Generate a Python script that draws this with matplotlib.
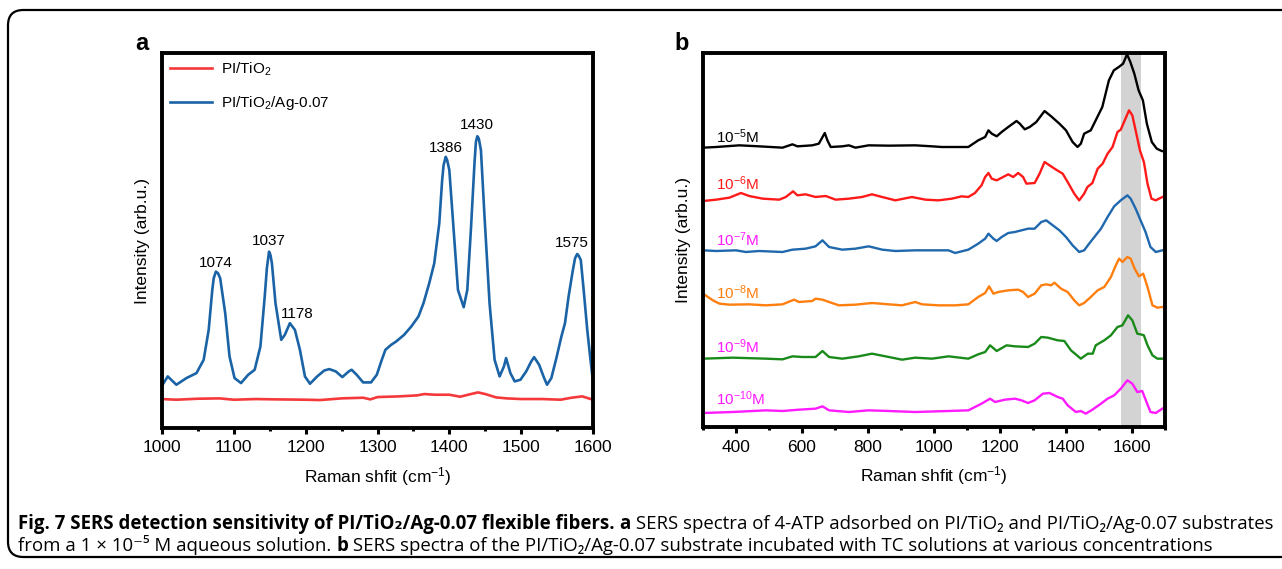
import matplotlib
matplotlib.use("Agg")
import matplotlib.pyplot as plt
from matplotlib.patches import FancyBboxPatch
from matplotlib.ticker import MultipleLocator

plt.rcParams['font.family'] = ['Liberation Sans', 'DejaVu Sans']
plt.rcParams['mathtext.fontset'] = 'custom'
plt.rcParams['mathtext.rm'] = 'Liberation Sans'
plt.rcParams['mathtext.it'] = 'Liberation Sans:italic'
plt.rcParams['mathtext.bf'] = 'Liberation Sans:bold'

# ---- panel a : 4-ATP spectra ----
a_blue_x = [1000, 1008, 1020, 1034, 1048, 1058, 1065, 1070, 1072, 1075, 1078, 1081, 1088, 1094, 1101,
            1110, 1120, 1129, 1137, 1143, 1146, 1149, 1151, 1153, 1158, 1166, 1171, 1178, 1185, 1192,
            1199, 1206, 1216, 1226, 1233, 1242, 1251, 1260, 1264, 1271, 1280, 1291, 1299, 1306, 1311,
            1319, 1326, 1337, 1347, 1357, 1364, 1372, 1379, 1386, 1390, 1392, 1395, 1397, 1400, 1406,
            1412, 1420, 1425, 1430, 1435, 1437, 1439, 1441, 1444, 1449, 1456, 1463, 1470, 1476, 1479,
            1485, 1491, 1499, 1507, 1514, 1518, 1525, 1532, 1536, 1542, 1549, 1556, 1561, 1566, 1572,
            1575, 1578, 1580, 1583, 1587, 1592, 1597, 1600]
a_blue_y = [127, 155, 130, 150, 165, 205, 295, 415, 450, 470, 465, 450, 345, 215, 150,
            135, 160, 175, 245, 395, 480, 530, 520, 495, 375, 265, 280, 315, 295, 235,
            155, 133, 155, 173, 177, 170, 153, 170, 175, 160, 137, 137, 160, 205, 235,
            250, 260, 280, 305, 335, 375, 435, 495, 615, 745, 790, 815, 805, 775, 595,
            415, 363, 415, 595, 795, 860, 877, 870, 835, 635, 375, 205, 155, 185, 210,
            165, 140, 145, 170, 200, 213, 190, 150, 130, 150, 210, 275, 315, 395, 475,
            510, 523, 518, 505, 415, 295, 195, 140]
a_red_x = [1000, 1020, 1050, 1080, 1100, 1130, 1160, 1200, 1220, 1250, 1280, 1290, 1300, 1330, 1355,
           1365, 1380, 1400, 1415, 1430, 1440, 1450, 1465, 1480, 1500, 1530, 1555, 1570, 1585, 1600]
a_red_y = [87, 85, 88, 89, 85, 87, 86, 85, 84, 89, 91, 86, 93, 95, 98,
           102, 100, 100, 94, 102, 107, 102, 92, 89, 87, 87, 85, 91, 95, 85]
peak_names = ["1074", "1037", "1178", "1386", "1430", "1575"]
peak_x = [1075, 1149, 1188, 1395, 1439, 1570]
peak_y = [497, 563, 342, 842, 910, 555]

# ---- panel b : TC concentrations ----
conc_labels = ["10$^{-5}$M", "10$^{-6}$M", "10$^{-7}$M", "10$^{-8}$M", "10$^{-9}$M", "10$^{-10}$M"]
conc_label_y = [872, 730, 562, 403, 242, 85]

b5_x = [300, 340, 410, 470, 541, 571, 586, 631, 651, 669, 677, 687, 722, 742, 762, 802, 863, 943, 994,
        1024, 1104, 1134, 1155, 1165, 1175, 1190, 1205, 1225, 1250, 1260, 1275, 1290, 1310, 1335, 1355,
        1380, 1400, 1420, 1435, 1445, 1455, 1475, 1490, 1510, 1530, 1545, 1560, 1573, 1585, 1595, 1607,
        1620, 1633, 1645, 1660, 1675, 1690, 1700]
b5_y = [838, 840, 845, 842, 838, 848, 842, 845, 850, 882, 860, 840, 842, 845, 838, 845, 844, 845, 842,
        840, 840, 860, 870, 890, 880, 872, 885, 900, 918, 910, 893, 900, 915, 948, 932,
        910, 890, 855, 840, 850, 880, 890, 920, 960, 1040, 1070, 1080, 1090, 1118, 1095, 1060,
        1010, 980, 910, 855, 835, 828, 826]
b6_x = [300, 340, 380, 415, 440, 481, 531, 551, 573, 586, 611, 641, 672, 702, 742, 782, 812, 843, 883,
        933, 974, 1014, 1054, 1084, 1104, 1124, 1144, 1155, 1165, 1175, 1190, 1225, 1240, 1255, 1270,
        1280, 1305, 1320, 1335, 1350, 1370, 1390, 1405, 1425, 1440, 1455, 1465, 1480, 1496, 1511, 1526,
        1541, 1556, 1566, 1578, 1591, 1601, 1611, 1624, 1636, 1647, 1659, 1672, 1682, 1692, 1700]
b6_y = [678, 682, 688, 702, 693, 685, 682, 690, 707, 695, 698, 690, 693, 682, 685, 690, 698, 690, 680,
        690, 682, 680, 685, 692, 690, 702, 725, 750, 762, 745, 740, 758, 750, 762, 750,
        730, 732, 760, 795, 785, 772, 760, 735, 700, 680, 700, 720, 732, 775, 790, 820,
        840, 885, 892, 920, 950, 935, 890, 830, 795, 730, 685, 680, 685, 690, 692]
b7_x = [300, 340, 400, 430, 470, 541, 571, 611, 641, 662, 682, 722, 762, 802, 843, 883, 943, 994, 1044,
        1064, 1104, 1134, 1155, 1165, 1180, 1190, 1205, 1225, 1245, 1265, 1285, 1305, 1325, 1340, 1360,
        1380, 1400, 1420, 1440, 1455, 1470, 1490, 1506, 1526, 1546, 1566, 1586, 1596, 1611, 1626, 1641,
        1656, 1672, 1692, 1700]
b7_y = [530, 528, 530, 525, 528, 525, 532, 535, 542, 560, 540, 532, 535, 542, 532, 528, 530, 530, 530,
        522, 532, 550, 565, 580, 565, 558, 570, 582, 585, 590, 595, 595, 615, 620, 605,
        590, 570, 545, 525, 530, 550, 575, 595, 630, 662, 680, 695, 685, 655, 620, 585,
        540, 525, 530, 532]
b8_x = [300, 315, 330, 350, 380, 440, 491, 541, 576, 591, 631, 641, 662, 682, 712, 762, 812, 863, 903,
        943, 964, 1014, 1064, 1104, 1134, 1155, 1167, 1180, 1195, 1225, 1255, 1270, 1285, 1305, 1325,
        1340, 1355, 1365, 1385, 1405, 1425, 1440, 1455, 1475, 1496, 1516, 1536, 1551, 1561, 1571, 1586,
        1596, 1608, 1621, 1634, 1647, 1662, 1677, 1692, 1700]
b8_y = [400, 390, 380, 370, 367, 368, 365, 368, 382, 375, 378, 385, 382, 375, 365, 367, 372, 368, 365,
        375, 368, 365, 365, 368, 390, 402, 422, 400, 405, 410, 412, 405, 390, 400, 425,
        428, 425, 433, 415, 405, 380, 365, 372, 390, 410, 420, 450, 485, 505, 495, 510,
        505, 475, 452, 460, 420, 365, 358, 360, 360]
b9_x = [300, 390, 491, 541, 571, 601, 641, 662, 682, 722, 772, 812, 863, 903, 943, 994, 1044, 1104, 1134,
        1155, 1170, 1190, 1220, 1245, 1285, 1305, 1325, 1345, 1375, 1395, 1415, 1445, 1466, 1481, 1490,
        1516, 1536, 1556, 1571, 1588, 1601, 1616, 1626, 1636, 1647, 1662, 1677, 1692, 1700]
b9_y = [205, 208, 205, 203, 212, 210, 210, 228, 210, 205, 212, 220, 210, 202, 208, 205, 212, 205, 218,
        225, 245, 228, 245, 242, 240, 250, 270, 268, 260, 258, 230, 205, 220, 220, 245,
        260, 275, 300, 305, 335, 320, 280, 278, 275, 245, 215, 205, 205, 206]
b10_x = [300, 390, 491, 541, 591, 641, 662, 682, 742, 802, 863, 943, 1044, 1104, 1144, 1170, 1185, 1215,
         1245, 1265, 1285, 1305, 1330, 1350, 1375, 1390, 1405, 1430, 1445, 1460, 1480, 1506, 1526, 1546,
         1566, 1586, 1601, 1616, 1631, 1644, 1656, 1672, 1692, 1700]
b10_y = [42, 45, 50, 48, 52, 55, 62, 50, 45, 50, 48, 45, 48, 50, 70, 85, 75, 82,
         85, 80, 72, 80, 100, 102, 90, 85, 65, 45, 48, 40, 52, 70, 85, 95,
         115, 140, 130, 105, 108, 75, 45, 42, 55, 58]

b_series = [(b5_x, b5_y), (b6_x, b6_y), (b7_x, b7_y), (b8_x, b8_y), (b9_x, b9_y), (b10_x, b10_y)]
b_colors = ["black", "#ff1a1a", "#1f68ad", "#ff7f0e", "#1a8a1a", "#ff1aff"]
b_label_colors = ["black", "#ff1a1a", "#ff1aff", "#ff7f0e", "#ff1aff", "#ff1aff"]

W, H = 1282, 569


def style_axes(ax):
    for s in ax.spines.values():
        s.set_linewidth(2.8)
    ax.set_yticks([])
    ax.tick_params(axis='x', which='major', direction='out', length=4, width=2.2, pad=5, labelsize=12.5)
    ax.tick_params(axis='x', which='minor', direction='out', length=2.5, width=2.2)
    ax.set_xlabel("Raman shfit (cm$^{-1}$)", fontsize=12.5, va='top')
    ax.xaxis.set_label_coords(0.5, -0.1)
    ax.set_ylabel("Intensity (arb.u.)", fontsize=12.5)
    ax.yaxis.set_label_coords(-0.027, 0.5)


def panel_a(ax):
    ax.plot(a_red_x, a_red_y, color="#f5393b", lw=1.9, label="PI/TiO$_2$")
    ax.plot(a_blue_x, a_blue_y, color="#1a63a6", lw=1.9, label="PI/TiO$_2$/Ag-0.07")
    for name, x, y in zip(peak_names, peak_x, peak_y):
        ax.text(x, y, name, fontsize=11, ha='center', va='center')
    ax.set_xlim(1000, 1600)
    ax.set_ylim(0, 1127)
    ax.xaxis.set_major_locator(MultipleLocator(100))
    ax.xaxis.set_minor_locator(MultipleLocator(50))
    style_axes(ax)
    ax.legend(loc='upper left', frameon=False, fontsize=11, handlelength=2.8,
              labelspacing=1.05, borderaxespad=0.1, handletextpad=0.55)


def panel_b(ax):
    ax.axvspan(1566, 1626, color="#d3d3d3", zorder=0, lw=0)
    for (x, y), c in zip(b_series, b_colors):
        ax.plot(x, y, color=c, lw=1.7)
    for lab, y, c in zip(conc_labels, conc_label_y, b_label_colors):
        ax.text(340, y, lab, color=c, fontsize=11, ha='left', va='center')
    ax.set_xlim(300, 1700)
    ax.set_ylim(0, 1122)
    ax.xaxis.set_major_locator(MultipleLocator(200))
    ax.xaxis.set_minor_locator(MultipleLocator(100))
    style_axes(ax)


def caption(fig, renderer, lines, x0, ys, size=13.4):
    for parts, y in zip(lines, ys):
        x = x0
        for txt, weight in parts:
            t = fig.text(x / W, 1 - y / H, txt, fontsize=size, fontweight=weight,
                         family=['Open Sans', 'DejaVu Sans'], ha='left', va='baseline')
            x = t.get_window_extent(renderer).x1


fig = plt.figure(figsize=(W / 100, H / 100), dpi=100)
ax_a = fig.add_axes([162 / W, 1 - 428 / H, 431 / W, 375 / H])
ax_b = fig.add_axes([703 / W, 1 - 427 / H, 462 / W, 374 / H])
panel_a(ax_a)
panel_b(ax_b)

fig.text(142 / W, 1 - 43 / H, "a", fontsize=17, fontweight='bold', ha='center', va='center')
fig.text(682 / W, 1 - 43 / H, "b", fontsize=17, fontweight='bold', ha='center', va='center')

frame = FancyBboxPatch((8 / W, 12 / H), 1.2, 1 - 22 / H,
                       boxstyle="round,pad=0,rounding_size=0.012", transform=fig.transFigure,
                       fill=False, ec="black", lw=1.6, mutation_aspect=W / H)
fig.patches.append(frame)

renderer = fig.canvas.get_renderer()
cap1 = [("Fig. 7 SERS detection sensitivity of PI/TiO₂/Ag-0.07 flexible fibers.", 'bold'),
        (" ", 'normal'), ("a", 'bold'),
        (" SERS spectra of 4-ATP adsorbed on PI/TiO₂ and PI/TiO₂/Ag-0.07 substrates", 'normal')]
cap2 = [("from a 1 × 10⁻⁵ M aqueous solution. ", 'normal'), ("b", 'bold'),
        (" SERS spectra of the PI/TiO₂/Ag-0.07 substrate incubated with TC solutions at various concentrations", 'normal')]
caption(fig, renderer, [cap1, cap2], 18, [529, 551])

fig.savefig("out.png", dpi=100)
